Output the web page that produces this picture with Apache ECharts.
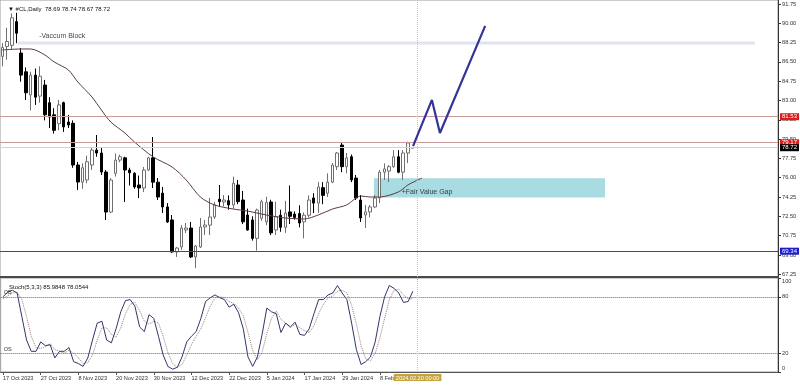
<!DOCTYPE html>
<html><head><meta charset="utf-8">
<script src="https://cdn.jsdelivr.net/npm/echarts@6/dist/echarts.min.js"></script>
<style>html,body{margin:0;padding:0;background:#fff;}#c{width:800px;height:386px;}</style>
</head><body><div id="c"></div>
<script>
// ---------- data ----------
const dates = ['17 Oct 2023','18 Oct 2023','19 Oct 2023','20 Oct 2023','23 Oct 2023','24 Oct 2023','25 Oct 2023','26 Oct 2023',
'27 Oct 2023','30 Oct 2023','31 Oct 2023','1 Nov 2023','2 Nov 2023','3 Nov 2023','6 Nov 2023','7 Nov 2023',
'8 Nov 2023','9 Nov 2023','10 Nov 2023','13 Nov 2023','14 Nov 2023','15 Nov 2023','16 Nov 2023','17 Nov 2023',
'20 Nov 2023','21 Nov 2023','22 Nov 2023','23 Nov 2023','24 Nov 2023','27 Nov 2023','28 Nov 2023','29 Nov 2023',
'30 Nov 2023','1 Dec 2023','4 Dec 2023','5 Dec 2023','6 Dec 2023','7 Dec 2023','8 Dec 2023','11 Dec 2023',
'12 Dec 2023','13 Dec 2023','14 Dec 2023','15 Dec 2023','18 Dec 2023','19 Dec 2023','20 Dec 2023','21 Dec 2023',
'22 Dec 2023','26 Dec 2023','27 Dec 2023','28 Dec 2023','29 Dec 2023','2 Jan 2024','3 Jan 2024','4 Jan 2024',
'5 Jan 2024','8 Jan 2024','9 Jan 2024','10 Jan 2024','11 Jan 2024','12 Jan 2024','15 Jan 2024','16 Jan 2024',
'17 Jan 2024','18 Jan 2024','19 Jan 2024','22 Jan 2024','23 Jan 2024','24 Jan 2024','25 Jan 2024','26 Jan 2024',
'29 Jan 2024','30 Jan 2024','31 Jan 2024','1 Feb 2024','2 Feb 2024','5 Feb 2024','6 Feb 2024','7 Feb 2024',
'8 Feb 2024','9 Feb 2024','12 Feb 2024','13 Feb 2024','14 Feb 2024','15 Feb 2024','16 Feb 2024','19 Feb 2024'];

const opens  = [87.0,87.9,88.0,90.15,87.3,85.6,83.5,85.3,83.4,84.4,82.8,81.7,80.9,82.8,81.05,80.93,
77.15,75.6,75.8,77.15,78.5,78.24,76.52,72.89,76.4,77.6,77.8,76.7,76.4,75.34,75.07,76.7,
77.8,75.6,74.6,73.35,72.17,69.27,69.72,71.26,71.44,68.82,69.72,71.53,71.7,72.44,74.05,73.8,
73.92,73.53,75.34,73.98,72.62,72.17,70.5,72.32,72.0,73.8,71.26,72.6,71.5,72.9,72.7,72.75,
72.0,72.6,74.16,73.7,75.1,74.6,75.6,77.0,78.96,77.0,77.9,75.97,73.98,72.62,72.9,73.35,
74.16,76.5,76.6,77.0,77.9,76.5,78.24,78.69];
const highs  = [88.2,89.6,90.9,90.95,87.76,86.0,85.6,85.9,86.1,84.86,83.3,82.3,83.05,82.9,81.7,81.2,
77.43,77.3,78.0,78.7,79.87,78.7,76.7,75.97,78.2,78.1,77.9,76.9,76.5,76.2,76.97,77.9,
79.69,75.97,75.16,73.7,72.62,69.72,71.71,71.9,71.99,69.9,72.35,72.17,74.16,73.8,75.34,74.43,
74.4,76.1,75.8,74.8,73.2,72.5,73.2,74.0,74.28,74.0,73.83,73.1,73.9,75.3,72.95,73.5,
72.85,74.4,74.6,75.6,75.6,76.4,77.33,78.33,79.24,78.24,78.1,76.25,74.43,73.53,73.53,74.43,
76.7,77.3,77.15,78.5,78.5,78.5,79.27,78.74];
const lows   = [86.1,86.7,87.6,88.2,84.7,83.05,82.1,82.6,82.8,81.2,80.5,80.0,80.3,80.15,80.5,76.9,
74.89,75.0,75.5,76.7,77.9,76.25,72.17,72.8,76.1,77.4,73.8,75.3,75.0,74.16,74.7,76.6,
75.07,73.98,72.8,71.9,69.18,68.82,69.45,70.99,68.73,67.8,69.63,70.8,70.8,72.26,73.35,73.4,
73.1,73.2,73.6,71.8,71.2,70.3,69.4,72.1,71.7,70.8,70.8,71.1,71.0,71.8,72.2,71.5,
70.5,72.4,72.8,72.8,73.6,74.25,75.5,76.7,76.5,76.4,75.6,73.98,71.99,71.44,72.4,73.25,
73.7,75.8,75.6,76.9,76.4,75.8,77.33,78.67];
const closes = [87.8,88.35,90.5,89.1,85.3,83.7,85.3,83.3,85.2,81.7,81.5,80.3,82.6,80.6,80.78,77.15,
75.61,76.9,77.45,78.51,78.24,76.52,72.89,75.79,77.6,77.9,76.7,76.45,75.16,75.07,76.7,77.8,
75.6,74.25,73.35,71.99,69.27,69.63,71.44,71.44,68.82,69.81,71.53,71.71,72.44,73.53,73.83,73.98,
73.53,75.5,73.83,72.0,71.26,70.5,73.07,73.83,73.75,71.0,72.47,71.5,72.8,72.5,72.4,71.9,
72.6,73.98,73.7,75.16,74.4,75.6,77.15,78.24,77.0,77.8,75.8,74.16,72.35,72.9,73.35,74.16,
76.5,76.8,77.0,77.9,76.5,78.24,79.15,78.72];

// moving average, read at these bar positions
const maIdx = [0,4,6,9,11,14,16,19,21,23,26,28,32,36,39,42,45,49,52,56,60,64,67,70,73,75,76,78,80,84,86,89];
const maVal = [87.58,87.67,87.67,87.13,86.49,85.77,84.68,83.32,82.14,81.05,80.05,79.24,77.88,76.97,75.79,74.25,
73.53,73.16,72.98,72.62,72.35,72.26,72.62,73.16,73.53,74.16,74.34,74.25,74.25,74.71,75.34,75.97];

const stochK = [80,85,87,84,59,34,22,22,32,28,29,15,22,22,26,11,9,6,15,34,52,54,34,31,46,64,76,77,70,48,43,61,
57,38,18,6,3,5,16,32,38,43,57,75,79,82,79,77,69,72,63,46,16,6,16,40,68,64,62,42,52,48,53,40,
39,46,62,77,77,82,84,92,84,77,52,24,8,11,16,32,59,80,92,89,84,74,75,86];
const stochD = [78,81,84,85,77,59,38,26,25,27,30,24,22,20,23,20,15,9,10,18,34,47,47,40,37,47,62,72,74,65,54,51,
54,52,38,21,9,5,8,18,29,38,46,58,70,79,80,79,75,73,68,60,42,23,13,21,41,57,65,56,52,47,51,47,
44,42,49,62,72,79,81,86,87,84,71,51,28,14,12,20,36,57,77,87,88,82,78,78];

const priceTicks = [67.25,69.00,70.75,72.50,74.25,76.00,77.75,79.50,81.25,83.00,84.75,86.50,88.25,90.00,91.75];
const stochTicks = [0,20,80,100];
const levelValues = [81.53,79.17,78.72,69.34];
const vacuumBox = {x0:3.3, x1:159.6, top:88.35, bottom:88.08, label:'-Vaccum Block', lx:7.8, ly:88.85};
const fvgBox = {x0:78.8, x1:127.8, top:75.95, bottom:74.21, label:'+Fair Value Gap', lx:84.7, ly:74.73};
const arrowIdx = [87.1,91.1,92.8,102.4];
const arrowVal = [78.87,83.05,80.05,89.76];
const cursorIdx = 88;
const cursorLabel = '2024.02.20 00:00';
const header = '\u25BC #CL,Daily  78.69 78.74 78.67 78.72';
const stochHeader = 'Stoch(5,3,3) 85.9848 78.0544';

// ---------- layout ----------
const SLOTS = 165;
const cats = dates.slice();
for (let k = dates.length; k < SLOTS; k++) cats.push('f' + k);
const FONT = 'Liberation Sans';
const showTick = (idx) => idx % 8 === 0 && idx <= 80;

const candleData = opens.map((o, i) => [o, closes[i], lows[i], highs[i]]);
const maData = maIdx.map((x, i) => [x, maVal[i]]);
const arrowData = arrowIdx.map((x, i) => [x, arrowVal[i]]);

const levelStyles = [
  {line:'#c99a9a', bg:'#dd1c1c'},
  {line:'#c99a9a', bg:'#dd1c1c'},
  {line:'#d2d2d2', bg:'#000000'},
  {line:'#4a4a5a', bg:'#1c1cc8'}
];

const chart = echarts.init(document.getElementById('c'), null, {renderer:'canvas'});
chart.setOption({
  animation: false,
  backgroundColor: '#ffffff',
  textStyle: {fontFamily: FONT},
  title: [
    {text: header, left: 3, top: 1, textStyle: {fontSize: 6, fontWeight: 'normal', color: '#111', fontFamily: FONT}},
    {text: stochHeader, left: 4, top: 279, textStyle: {fontSize: 6, fontWeight: 'normal', color: '#111', fontFamily: FONT}}
  ],
  grid: [
    {left: 0, right: 22, top: 0, height: 277, show:true, borderColor:'#9a9a9a', borderWidth:1, backgroundColor:'transparent'},
    {left: 0, right: 22, top: 278, height: 94, show:true, borderColor:'#9a9a9a', borderWidth:1, backgroundColor:'transparent'}
  ],
  xAxis: [
    {type:'category', gridIndex:0, data:cats, boundaryGap:true,
     axisLine:{show:true, onZero:false, lineStyle:{color:'#4a4a4a', width:2}}, axisTick:{show:false}, axisLabel:{show:false}, splitLine:{show:false}},
    {type:'value', gridIndex:0, min:-0.5, max:SLOTS-0.5, show:false, axisLine:{onZero:false}},
    {type:'category', gridIndex:1, data:cats, boundaryGap:true,
     axisLine:{show:true, onZero:false, lineStyle:{color:'#555', width:1}},
     axisTick:{show:true, alignWithLabel:true, interval:showTick, length:3, lineStyle:{color:'#555'}},
     axisLabel:{show:true, interval:showTick, align:'left', fontSize:5.6, color:'#333', margin:3, fontFamily:FONT},
     splitLine:{show:false}}
  ],
  yAxis: [
    {type:'value', gridIndex:0, position:'right', min:67.0, max:92.11,
     axisLine:{show:true, onZero:false, lineStyle:{color:'#333'}},
     axisTick:{show:true, customValues:priceTicks, length:3, lineStyle:{color:'#333'}},
     axisLabel:{show:true, customValues:priceTicks, formatter:(v)=>v.toFixed(2), fontSize:5.7, color:'#333', margin:4, fontFamily:FONT},
     splitLine:{show:false}},
    {type:'value', gridIndex:1, position:'right', min:0, max:100,
     axisLine:{show:true, onZero:false, lineStyle:{color:'#333'}},
     axisTick:{show:true, customValues:stochTicks, length:3, lineStyle:{color:'#333'}},
     axisLabel:{show:true, customValues:[3.7,20,80,96.4],
       formatter:(v)=> v < 10 ? '0' : (v > 90 ? '100' : String(Math.round(v))),
       fontSize:5.7, color:'#333', margin:4, fontFamily:FONT},
     splitLine:{show:false}}
  ],
  series: [
    {type:'line', name:'zones', xAxisIndex:1, yAxisIndex:0, data:[], z:1, silent:true,
     markArea:{silent:true, data:[
       [{coord:[vacuumBox.x0, vacuumBox.top], itemStyle:{color:'#e2e2f3'}}, {coord:[vacuumBox.x1, vacuumBox.bottom]}],
       [{coord:[fvgBox.x0, fvgBox.top], itemStyle:{color:'#a8dbe2'}}, {coord:[fvgBox.x1, fvgBox.bottom]}]
     ]}},
    {type:'candlestick', name:'CL', xAxisIndex:0, yAxisIndex:0, data:candleData, barWidth:3, z:3,
     itemStyle:{color:'#ffffff', color0:'#000000', borderColor:'#707070', borderColor0:'#000000', borderWidth:1},
     markLine:{silent:true, symbol:['none','none'], animation:false,
       data: levelValues.map((v, k) => ({
         yAxis: v,
         lineStyle:{color:levelStyles[k].line, width:1, type:'solid'},
         label:{show:true, position:'end', distance:2, formatter:v.toFixed(2), color:'#fff',
                backgroundColor:levelStyles[k].bg, padding:[1,2,0,2], fontSize:6, fontFamily:FONT}
       })).concat([{xAxis: cursorIdx, lineStyle:{color:'#c8c890', width:1, type:'dotted'}, label:{show:false}}])
     }},
    {type:'line', name:'MA', xAxisIndex:1, yAxisIndex:0, data:maData, showSymbol:false, smooth:0.3,
     lineStyle:{color:'#5a3c3c', width:1}, z:4, silent:true},
    {type:'line', name:'arrow', xAxisIndex:1, yAxisIndex:0, data:arrowData, showSymbol:false,
     lineStyle:{color:'#33339a', width:2.2}, z:6, silent:true},
    {type:'scatter', name:'notes', xAxisIndex:1, yAxisIndex:0, symbolSize:0, z:7, silent:true,
     data:[{value:[vacuumBox.lx, vacuumBox.ly], name:vacuumBox.label}, {value:[fvgBox.lx, fvgBox.ly], name:fvgBox.label}],
     label:{show:true, position:'right', distance:0, formatter:'{b}', fontSize:7, color:'#111', fontFamily:FONT}},
    {type:'line', name:'%K', xAxisIndex:2, yAxisIndex:1, data:stochK, showSymbol:false,
     lineStyle:{color:'#34346a', width:1}, z:4, silent:true,
     markLine:{silent:true, symbol:['none','none'], animation:false,
       data:[
         {yAxis:80, lineStyle:{color:'#666', type:'dotted', width:1}, label:{show:true, position:'insideStartTop', formatter:'OB', fontSize:5.5, color:'#333', distance:[3,1]}},
         {yAxis:20, lineStyle:{color:'#666', type:'dotted', width:1}, label:{show:true, position:'insideStartTop', formatter:'OS', fontSize:5.5, color:'#333', distance:[3,1]}},
         {xAxis:cursorIdx, lineStyle:{color:'#c8c890', width:1, type:'dotted'},
          label:{show:true, position:'start', formatter:cursorLabel, color:'#fff', backgroundColor:'#c5a440', padding:[1,2,0,2], fontSize:5.6, distance:2, fontFamily:FONT}}
       ]}},
    {type:'line', name:'%D', xAxisIndex:2, yAxisIndex:1, data:stochD, showSymbol:false,
     lineStyle:{color:'#a07c7c', width:1, type:'dotted'}, z:3, silent:true}
  ]
});
</script></body></html>
